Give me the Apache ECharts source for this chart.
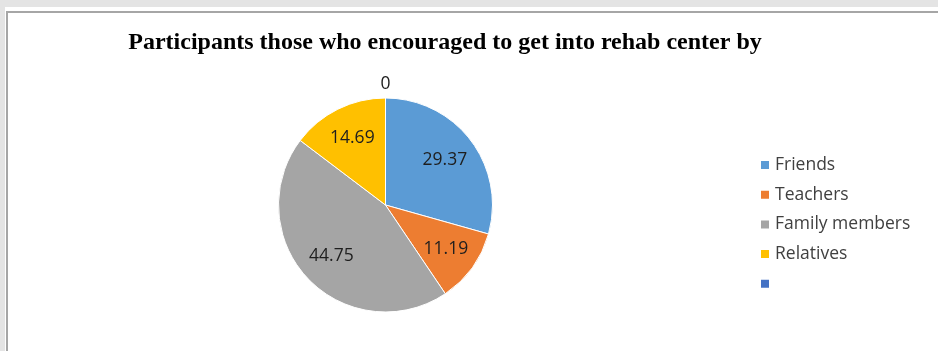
<!DOCTYPE html>
<html>
<head>
<meta charset="utf-8">
<script src="https://cdn.jsdelivr.net/npm/echarts@6/dist/echarts.min.js"></script>
<style>html,body{margin:0;padding:0;background:#e4e4e4;}#c{width:938px;height:351px;}</style>
</head>
<body>
<div id="c"></div>
<script>
var titleText = 'Participants those who encouraged to get into rehab center by';
var categories = ['Friends', 'Teachers', 'Family members', 'Relatives', ' '];
var values = [29.37, 11.19, 44.75, 14.69, 0];
var colors = ['#5b9bd5', '#ed7d31', '#a5a5a5', '#ffc000', '#4472c4'];

var chart = echarts.init(document.getElementById('c'), null, {renderer: 'canvas'});
var center = [385.5, 205];
var labelFont = {fontFamily: 'Open Sans', fontSize: 17.5, color: '#1e1e1e'};

function mainData() {
  return categories.map(function (c, i) {
    return {name: c, value: values[i], itemStyle: {color: colors[i]}};
  });
}
function innerLabelData() {
  return categories.map(function (c, i) {
    return {name: c, value: values[i], label: {show: values[i] !== 0}};
  });
}
function zeroLabelData() {
  return categories.map(function (c, i) {
    return {name: c, value: values[i], label: {show: values[i] === 0}};
  });
}

chart.setOption({
  backgroundColor: '#e4e4e4',
  animation: false,
  graphic: [
    {type: 'rect', z: -10, shape: {x: 5, y: 7, width: 940, height: 350}, style: {fill: '#ffffff'}},
    {type: 'rect', z: -9, shape: {x: 7, y: 12, width: 940, height: 350}, style: {fill: '#ffffff', stroke: '#a6a6a6', lineWidth: 2}}
  ],
  title: {
    text: titleText,
    left: 440,
    textAlign: 'center',
    top: 26,
    textStyle: {fontFamily: 'Liberation Serif', fontWeight: 'bold', fontSize: 24, color: '#000000'}
  },
  legend: {
    orient: 'vertical',
    left: 759,
    top: 155,
    padding: 0,
    itemWidth: 10,
    itemHeight: 10,
    itemGap: 9.7,
    icon: 'rect',
    data: categories,
    selectedMode: false,
    textStyle: {fontFamily: 'Open Sans', fontSize: 17.5, color: '#404040', lineHeight: 20}
  },
  series: [
    {
      name: 'main', type: 'pie', center: center, radius: 107,
      startAngle: 90, clockwise: true, silent: true,
      itemStyle: {borderColor: '#ffffff', borderWidth: 1},
      label: {show: false}, labelLine: {show: false},
      data: mainData()
    },
    {
      name: 'inner', type: 'pie', center: center, radius: [36, 107],
      startAngle: 90, clockwise: true, silent: true, legendHoverLink: false,
      itemStyle: {color: 'rgba(0,0,0,0)'},
      label: Object.assign({position: 'inside', formatter: '{c}'}, labelFont),
      labelLine: {show: false},
      data: innerLabelData()
    },
    {
      name: 'zero', type: 'pie', center: center, radius: [112, 124],
      startAngle: 90, clockwise: true, silent: true, legendHoverLink: false,
      itemStyle: {color: 'rgba(0,0,0,0)'},
      label: Object.assign({position: 'inside', formatter: '{c}'}, labelFont),
      labelLine: {show: false},
      data: zeroLabelData()
    }
  ]
});
</script>
</body>
</html>
